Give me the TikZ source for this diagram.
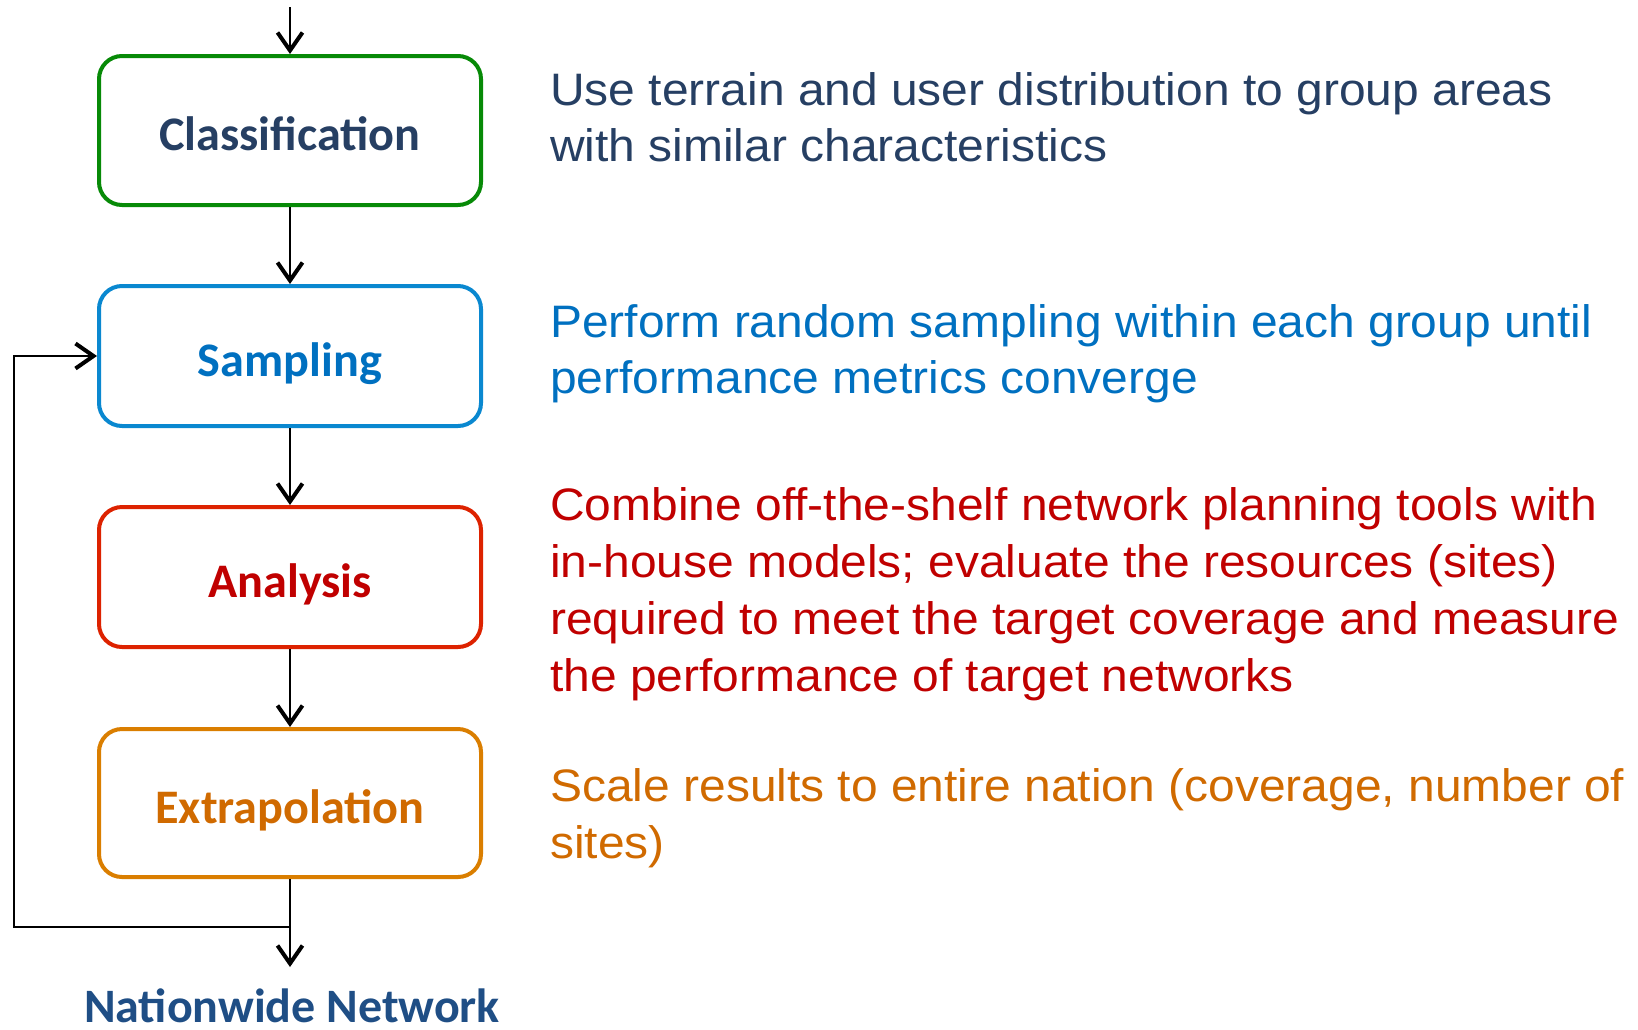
\documentclass[tikz,border=0pt]{standalone}
\usepackage{fontspec}
\setmainfont{Liberation Sans}[FakeStretch=1.054]
\newfontfamily\calfont{Carlito}
\usetikzlibrary{arrows.meta}
\definecolor{navy}{HTML}{263F63}
\definecolor{natblue}{HTML}{1F4E85}
\definecolor{grn}{HTML}{078A07}
\definecolor{bbox}{HTML}{0A88D0}
\definecolor{btxt}{HTML}{0070C0}
\definecolor{rbox}{HTML}{DD2200}
\definecolor{rtxt}{HTML}{C00000}
\definecolor{obox}{HTML}{DA7E00}
\definecolor{otxt}{HTML}{D06A00}
\tikzset{
  stepbox/.style={draw, rounded corners=23pt, line width=4pt, minimum width=382pt,
    inner sep=0pt, text height=40pt, text depth=0pt,
    font=\calfont\bfseries\fontsize{48.2}{50}\selectfont},
  desc/.style={anchor=base west, inner sep=0pt, font=\fontsize{45.5}{56.5}\selectfont},
  arr/.style={-{Straight Barb[length=18pt,width=25pt,line width=4pt]}, line width=1.7pt},
}
\begin{document}
\begin{tikzpicture}[x=1pt,y=-1pt]
\useasboundingbox (0,0) rectangle (1638,1029);
\node[stepbox, draw=grn, text=navy, minimum height=149pt] (cls) at (290,130.5) {Classification};
\node[stepbox, draw=bbox, text=btxt, minimum height=140pt] (smp) at (290,356) {Sampling};
\node[stepbox, draw=rbox, text=rtxt, minimum height=140pt] (ana) at (290,577) {Analysis};
\node[stepbox, draw=obox, text=otxt, minimum height=148pt] (ext) at (290,803) {Extrapolation};
\node[anchor=base, inner sep=0pt, text=natblue, font=\calfont\bfseries\fontsize{48}{49}\selectfont] (nat) at (292,1022) {Nationwide Network};

\coordinate (in) at (290,7);
\coordinate (out) at (290,967);
\coordinate (j) at (290,927);
\coordinate (lx) at (14,927);

\draw[arr, line width=1.4pt] (in) -- (cls.north);
\draw[arr, line width=2.6pt] (cls.south) -- (smp.north);
\draw[arr] (smp.south) -- (ana.north);
\draw[arr] (ana.south) -- (ext.north);
\draw[arr] (ext.south) -- (out);
\draw[arr] (j) -- (lx) |- (smp.west);

\node[desc, text=navy] (d1) at (550,105) {\vtop{\baselineskip=56pt\hbox{Use terrain and user distribution to group areas}\hbox{with similar characteristics}}};
\node[desc, text=btxt] (d2) at (550,337) {\vtop{\baselineskip=56pt\hbox{Perform random sampling within each group until}\hbox{performance metrics converge}}};
\node[desc, text=rtxt] (d3) at (550,520) {\vtop{\baselineskip=57pt\hbox{Combine off-the-shelf network planning tools with}\hbox{in-house models; evaluate the resources (sites)}\hbox{required to meet the target coverage and measure}\hbox{the performance of target networks}}};
\node[desc, text=otxt] (d4) at (550,801) {\vtop{\baselineskip=57pt\hbox{Scale results to entire nation (coverage, number of}\hbox{sites)}}};
\end{tikzpicture}
\end{document}
